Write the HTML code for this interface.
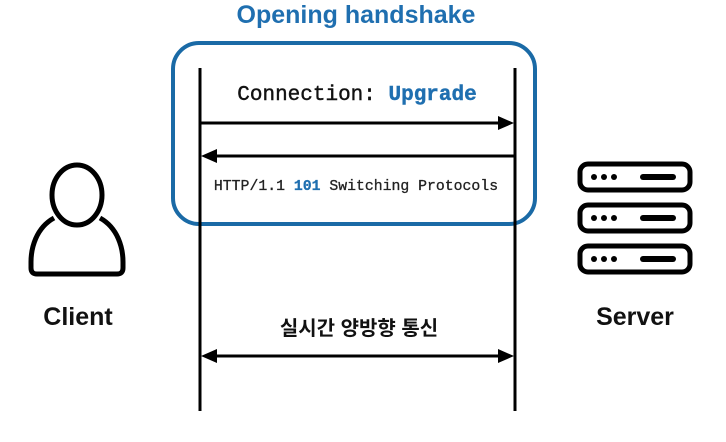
<!DOCTYPE html>
<html><head><meta charset="utf-8"><style>
body{margin:0;background:#fff;width:726px;height:437px;overflow:hidden}
</style></head><body>
<svg width="726" height="437" viewBox="0 0 726 437" xmlns="http://www.w3.org/2000/svg">
<text x="356" y="23" text-anchor="middle" font-family="Liberation Sans, sans-serif" font-weight="bold" font-size="25" fill="#1f6fb0">Opening handshake</text>
<rect x="173" y="43" width="362" height="181" rx="26" fill="none" stroke="#1a6aa6" stroke-width="4"/>
<line x1="200" y1="68" x2="200" y2="411" stroke="#000" stroke-width="3"/>
<line x1="515" y1="68" x2="515" y2="411" stroke="#000" stroke-width="3"/>
<text x="357" y="100" text-anchor="middle" font-family="Liberation Mono, monospace" font-size="21" fill="#111" stroke="#111" stroke-width="0.4">Connection: <tspan fill="#1f6fb0" stroke="#1f6fb0" font-weight="bold">Upgrade</tspan></text>
<line x1="200" y1="123" x2="500" y2="123" stroke="#000" stroke-width="3"/>
<polygon points="514,123 498,116 498,130" fill="#000"/>
<line x1="216" y1="156" x2="515" y2="156" stroke="#000" stroke-width="3"/>
<polygon points="201,156 217,149 217,163" fill="#000"/>
<text x="356" y="190" text-anchor="middle" font-family="Liberation Mono, monospace" font-size="14.8" fill="#222" stroke="#222" stroke-width="0.3">HTTP/1.1 <tspan fill="#1f6fb0" stroke="#1f6fb0" font-weight="bold">101</tspan> Switching Protocols</text>
<text x="359" y="335" text-anchor="middle" font-family="Liberation Sans, 'Noto Sans CJK KR', sans-serif" font-weight="bold" font-size="20" fill="#111">실시간 양방향 통신</text>
<line x1="216" y1="356" x2="500" y2="356" stroke="#000" stroke-width="3"/>
<polygon points="201,356 217,349 217,363" fill="#000"/>
<polygon points="514,356 498,349 498,363" fill="#000"/>
<ellipse cx="77" cy="195" rx="25" ry="30" fill="none" stroke="#000" stroke-width="5"/>
<path d="M54,218 C36,228 31,248 31,262 L31,268 Q31,274 37,274 L117,274 Q123,274 123,268 L123,262 C123,248 118,228 100,218" fill="none" stroke="#000" stroke-width="5" stroke-linejoin="round"/>
<text x="78" y="325" text-anchor="middle" font-family="Liberation Sans, sans-serif" font-weight="bold" font-size="25" fill="#111">Client</text>
<g fill="none" stroke="#000" stroke-width="5">
<rect x="580" y="164" width="110" height="26" rx="8"/>
<rect x="580" y="205" width="110" height="26" rx="8"/>
<rect x="580" y="246" width="110" height="26" rx="8"/>
</g>
<g fill="#000">
<circle cx="594" cy="177" r="3"/><circle cx="604" cy="177" r="3"/><circle cx="614" cy="177" r="3"/>
<rect x="640" y="174" width="36" height="6" rx="3"/>
<circle cx="594" cy="218" r="3"/><circle cx="604" cy="218" r="3"/><circle cx="614" cy="218" r="3"/>
<rect x="640" y="215" width="36" height="6" rx="3"/>
<circle cx="594" cy="259" r="3"/><circle cx="604" cy="259" r="3"/><circle cx="614" cy="259" r="3"/>
<rect x="640" y="256" width="36" height="6" rx="3"/>
</g>
<text x="635" y="325" text-anchor="middle" font-family="Liberation Sans, sans-serif" font-weight="bold" font-size="25" fill="#111">Server</text>
</svg>
</body></html>
